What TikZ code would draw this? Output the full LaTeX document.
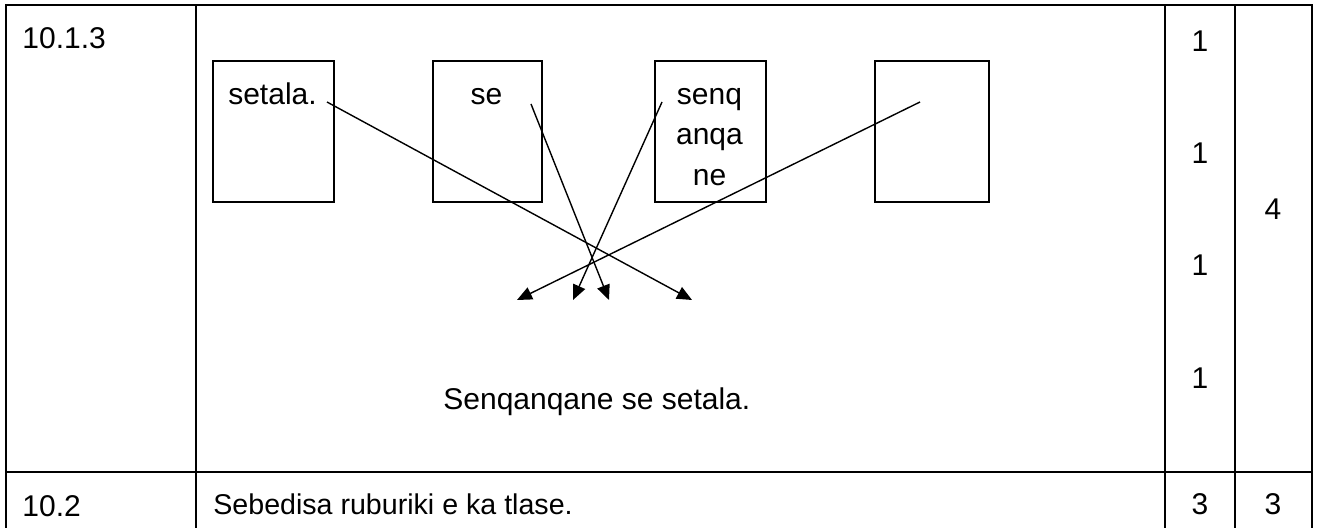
\documentclass[tikz,border=0pt]{standalone}
\usepackage{fontspec}
\setmainfont{Liberation Sans}
\usetikzlibrary{arrows.meta}

\begin{document}
\begin{tikzpicture}[x=0.5pt, y=-0.5pt,
  rule/.style={line width=1pt},
  thinrule/.style={line width=0.6pt},
  wordbox/.style={draw, line width=0.8pt, anchor=north west, inner sep=0pt,
                  minimum height=70.5pt},
  txt/.style={font=\fontsize{15}{18}\selectfont, inner sep=0pt},
  small/.style={font=\fontsize{14.3}{17}\selectfont, inner sep=0pt},
  link/.style={line width=0.7pt, -{Triangle[length=7.5pt,width=6.5pt]}}]

\useasboundingbox (0,0) rectangle (1317,528);

% table rules
\draw[rule] (6,528) -- (6,5) -- (1312,5) -- (1312,528);
\draw[rule] (6,472) -- (1312,472);
\draw[thinrule] (196,5) -- (196,528);
\draw[rule] (1165,5) -- (1165,528);
\draw[rule] (1235,5) -- (1235,528);

% first column
\node[txt, anchor=base west] (q1) at (22,49) {10.1.3};
\node[txt, anchor=base west] (q2) at (22,517) {10.2};

% word boxes
\node[wordbox, minimum width=60.5pt] (b1) at (212,60) {};
\node[wordbox, minimum width=54.5pt] (b2) at (432,60) {};
\node[wordbox, minimum width=55.5pt] (b3) at (654,60) {};
\node[wordbox, minimum width=57pt]   (b4) at (874,60) {};

\node[txt, anchor=base] (w1)  at (272.5,105) {setala.};
\node[txt, anchor=base] (w2)  at (486.5,105) {se};
\node[txt, anchor=base] (w3a) at (709.5,105) {senq};
\node[txt, anchor=base] (w3b) at (709.5,145) {anqa};
\node[txt, anchor=base] (w3c) at (709.5,186) {ne};

% connector ends
\coordinate (s1) at (327,102);
\coordinate (s2) at (531,104);
\coordinate (s3) at (662,102);
\coordinate (s4) at (920,102);
\coordinate (e1) at (692,300);
\coordinate (e2) at (609,300);
\coordinate (e3) at (573,300);
\coordinate (e4) at (517,300);

\draw[link] (s1) -- (e1);
\draw[link] (s2) -- (e2);
\draw[link] (s3) -- (e3);
\draw[link] (s4) -- (e4);

\node[txt, anchor=base west] (ans) at (443,410) {Senqanqane se setala.};

% marks
\node[txt] (m1) at (1200,41)  {1};
\node[txt] (m2) at (1200,153) {1};
\node[txt] (m3) at (1200,265) {1};
\node[txt] (m4) at (1200,378) {1};
\node[txt] (tot1) at (1273,209) {4};

\node[small, anchor=base west] (instr) at (213,515) {Sebedisa ruburiki e ka tlase.};
\node[txt] (m5) at (1200,504) {3};
\node[txt] (tot2) at (1273,504) {3};
\end{tikzpicture}
\end{document}
